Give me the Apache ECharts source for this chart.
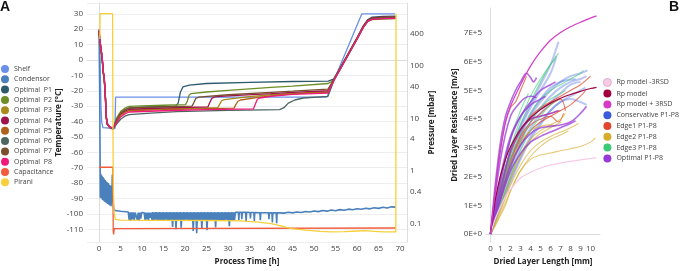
<!DOCTYPE html>
<html>
<head>
<meta charset="utf-8">
<script src="https://cdn.jsdelivr.net/npm/echarts@6/dist/echarts.min.js"></script>
<style>
html, body { margin: 0; padding: 0; background: #fff; }
#chart { width: 685px; height: 271px; }
</style>
</head>
<body>
<div id="chart"></div>
<script>
// ---- panel A : temperatures [°C] vs process time [h] ----
let shelf = [[0,20.3],[0.2,5],[0.45,-30],[0.6,-40],[0.9,-44],[3.7,-44.5],[3.85,-24.1],[53,-24.1],[61.1,30],[68.8,30]];

let condensor = [
  [0,19.5],[0.15,-20],[0.3,-89.5],[0.42,-74],[0.55,-90],[0.67,-75],[0.8,-91],[0.92,-76],[1.05,-91.5],[1.17,-77],
  [1.3,-92],[1.42,-78],[1.55,-92.5],[1.67,-79],[1.8,-93],[1.92,-79.5],[2.05,-93.5],[2.17,-80],[2.3,-94],[2.42,-81],
  [2.55,-94.5],[2.67,-81.5],[2.8,-95],[2.92,-82],[3.0,-90],[3.08,-74.5],[3.2,-91],[3.4,-96],[3.7,-97.8],[5,-98.3],[6.8,-98.8],
  [7.0,-104],[7.2,-99],[7.4,-104.5],[7.6,-99],[7.8,-103.5],[8.0,-99],[8.2,-104],[8.4,-99.1],
  [8.7,-99.1],[8.9,-104],[9.1,-99.1],[9.3,-104.5],[9.5,-99.1],[9.7,-103],[9.9,-99.1],
  [10.5,-99.2],[10.7,-104],[10.9,-99.2],[11.1,-103.5],[11.3,-99.2],[11.5,-104.5],[11.7,-99.2],[11.9,-102.5],[12.1,-99.2],
  [12.3,-104],[12.5,-98.8],[12.7,-104.5],[12.9,-98.9],[13.1,-103.8],[13.3,-98.8],[13.5,-104.2],[13.7,-98.9],[13.9,-104.6],[14.1,-98.8],
  [14.3,-103.9],[14.5,-98.9],[14.7,-104.3],[14.9,-98.8],[15.1,-104.5],[15.3,-98.9],[15.5,-103.7],[15.7,-98.8],[15.9,-104.4],[16.1,-98.9],
  [16.3,-104.1],[16.5,-98.8],[16.7,-104.6],[16.9,-98.9],[17.1,-108.5],[17.3,-98.8],[17.5,-104.2],[17.7,-98.9],[17.9,-110],[18.1,-98.8],
  [18.3,-104.5],[18.5,-98.9],[18.7,-104],[18.9,-98.8],[19.1,-109],[19.3,-98.9],[19.5,-104.3],[19.7,-98.8],[19.9,-104.6],[20.1,-98.9],
  [20.3,-103.8],[20.5,-98.8],[20.7,-104.4],[20.9,-98.9],[21.1,-104.1],[21.3,-98.8],[21.5,-104.5],[21.7,-98.9],[21.9,-111],[22.1,-98.8],
  [22.3,-104.2],[22.5,-98.9],[22.7,-112.5],[22.9,-98.8],[23.1,-104.4],[23.3,-98.9],[23.5,-104],[23.7,-98.8],[23.9,-109.5],[24.1,-98.9],
  [24.3,-104.6],[24.5,-98.8],[24.7,-104.1],[24.9,-98.9],[25.1,-110.5],[25.3,-98.8],[25.5,-104.3],[25.7,-98.9],[25.9,-104.5],[26.1,-98.8],
  [26.3,-103.9],[26.5,-98.9],[26.7,-104.2],[26.9,-98.8],[27.1,-108.8],[27.3,-98.9],[27.5,-104.4],[27.7,-98.8],[27.9,-104],[28.1,-98.9],
  [28.3,-104.6],[28.5,-98.8],[28.7,-104.1],[28.9,-98.9],[29.1,-104.3],[29.3,-98.8],[29.5,-103.8],[29.7,-98.9],[29.9,-104.5],[30.1,-98.8],
  [30.3,-108],[30.5,-98.9],[30.7,-104.2],[30.9,-98.8],[31.1,-104.4],[31.3,-98.9],[31.5,-103.9],[31.7,-99],
  [32.4,-99],[32.5,-104],[32.6,-99],[33.1,-99],[33.2,-103.5],[33.3,-99],[34.1,-99],[34.2,-105],[34.3,-99],
  [35.1,-99.1],[35.2,-103],[35.3,-99.1],[36.0,-99.1],[36.1,-104.5],[36.2,-99.1],[37.4,-99.2],[37.5,-104],[37.6,-99.2],
  [39.4,-99.2],[39.5,-103.5],[39.6,-99.2],[40.2,-99.3],[40.3,-105.5],[40.4,-99.3],[41.2,-99.3],[41.3,-106],[41.4,-99.3],
  [42,-99.3],[43,-99.5],[44,-98.9],[45,-99.3],[46,-98.7],[47,-99.1],[48,-98.4],[49,-98.8],[50,-98.1],[51,-98.5],
  [52,-97.8],[53,-98.2],[54,-97.5],[55,-97.9],[56,-97.2],[57,-97.6],[58,-96.9],[59,-97.3],[60,-96.6],[61,-97.0],
  [62,-96.3],[63,-96.7],[64,-96.0],[65,-96.4],[66,-95.7],[67,-96.1],[68,-95.4],[69,-95.6]
];

let p1 = [[0,18.5],[0.4,8],[0.7,2],[1.0,-8],[1.2,-11],[1.5,-25],[1.65,-36],[1.9,-41],[2.5,-43.3],[3.2,-44.2],[3.6,-42.5],[4,-39.5],[5,-34.5],[6,-32.5],[7,-31.2],[10,-30.6],[14,-30.3],[17.8,-30],[18.4,-28],[18.9,-21],[19.5,-17.5],[21,-16.3],[25,-15.3],[35,-14.5],[45,-14],[53.3,-13.8],[54.5,-12.5],[56,-5.5],[58,4.5],[60,14.5],[61.5,22.5],[62.5,26.3],[63.5,27.8],[66,28.3],[69,28.5]];
let p2 = [[0,18],[0.4,7],[0.7,1],[1.0,-9],[1.2,-12],[1.5,-26],[1.65,-36.5],[1.9,-41.5],[2.5,-43.5],[3.2,-44.5],[3.6,-42],[4,-38],[5,-33.5],[6,-31.3],[7,-30.2],[10,-29.8],[15,-29.4],[20.1,-29],[20.5,-27],[20.9,-23],[21.4,-21.8],[25,-20.8],[30,-19.8],[35,-18.8],[40,-17.8],[45,-17],[53.3,-15.3],[54.5,-13.2],[56,-6.2],[58,3.8],[60,13.5],[61.5,21.5],[62.5,25.2],[63.5,26.2],[66,26.6],[69,26.8]];
let p3 = [[0,18],[0.4,7.5],[0.7,1.5],[1.0,-9],[1.2,-12],[1.5,-26],[1.65,-37],[1.9,-42],[2.5,-43.8],[3.2,-44.6],[3.6,-42.5],[4,-39.8],[5,-35.5],[6,-33.5],[7,-32.5],[15,-31.8],[27.6,-31],[28,-29],[28.5,-26.5],[29.1,-25.8],[35,-23.8],[40,-22.6],[45,-21.7],[53.2,-20.5],[54.5,-13.5],[56,-6],[58,4],[60,14],[61.5,21.8],[62.5,25.5],[63.5,26.8],[66,27.2],[69,27.4]];
let p4 = [[0,19],[0.4,8],[0.7,2.5],[1.0,-8],[1.2,-11.5],[1.5,-25],[1.65,-36.5],[1.9,-41.8],[2.5,-43.8],[3.2,-44.8],[3.6,-42.8],[4,-40],[5,-35.5],[6,-33.3],[7,-32],[15,-31.2],[25.3,-30.5],[25.7,-28],[26.2,-25],[26.8,-24],[30,-23.3],[40,-21.8],[45,-21],[53.2,-20],[54.5,-13.3],[56,-5.8],[58,4.2],[60,14.3],[61.5,22.2],[62.5,25.8],[63.5,27.3],[66,27.8],[69,28]];
let p5 = [[0,18.3],[0.4,7.3],[0.7,1.8],[1.0,-8.5],[1.2,-11.8],[1.5,-25.5],[1.65,-36.8],[1.9,-41.9],[2.5,-43.9],[3.2,-44.7],[3.6,-43],[4,-40.5],[5,-36],[6,-34],[7,-33],[15,-32.3],[31.4,-31.3],[31.8,-29],[32.3,-26.8],[32.9,-26],[37,-24.3],[42,-22.7],[47,-21.7],[53.2,-21],[54.5,-13.6],[56,-6.1],[58,3.9],[60,13.9],[61.5,21.7],[62.5,25.3],[63.5,26.6],[66,27],[69,27.2]];
let p6 = [[0,18.8],[0.4,7.8],[0.7,2.2],[1.0,-8.2],[1.2,-11.2],[1.5,-25.2],[1.65,-36.2],[1.9,-41.5],[2.5,-43.8],[3.2,-45],[3.6,-43.8],[4,-42],[5,-38.5],[6,-36.5],[7,-35.5],[12,-34.5],[18,-33.6],[30,-32.8],[42,-32.2],[43,-31],[44,-28],[45.5,-26],[47.5,-24.7],[53.2,-23.7],[54.5,-14],[56,-6.5],[58,3.5],[60,13.6],[61.5,21.4],[62.5,25],[63.5,26.5],[66,27.4],[69,27.9]];
let p7 = [[0,18.2],[0.4,7.2],[0.7,1.2],[1.0,-8.8],[1.2,-12.2],[1.5,-26],[1.65,-36.6],[1.9,-41.6],[2.5,-43.6],[3.2,-44.4],[3.6,-42.3],[4,-39],[5,-34.5],[6,-32.3],[7,-31.2],[12,-30.7],[21.6,-30],[22,-28],[22.5,-25],[23.1,-24.2],[30,-22.6],[40,-21],[45,-20.3],[53.2,-19],[54.5,-13],[56,-5.7],[58,4.3],[60,14.2],[61.5,22],[62.5,25.7],[63.5,27],[66,27.6],[69,27.9]];
let p8 = [[0,19.5],[0.4,8.5],[0.7,3],[1.0,-7.5],[1.2,-11],[1.5,-24.5],[1.65,-36],[1.9,-41.2],[2.5,-43.5],[3.2,-44.5],[3.6,-43.5],[4,-41],[5,-37],[6,-35],[7,-33.8],[15,-33],[25,-32.3],[35.9,-31.8],[36.3,-29],[36.8,-25.5],[37.4,-24.7],[40,-23.6],[45,-22.4],[53.2,-21.6],[54.5,-13.8],[56,-6.3],[58,3.7],[60,13.7],[61.5,21.5],[62.5,25.2],[63.5,26.4],[66,26.9],[69,27.1]];

// pressures [mbar]
let capacitance = [[0,1.17],[3.2,1.17],[3.3,0.07],[3.4,0.062],[3.55,0.08],[4,0.082],[69,0.082]];
let pirani = [[0.2,320],[0.25,970],[3.15,970],[3.25,3],[3.35,0.4],[3.5,0.16],[3.8,0.12],[5,0.116],[15,0.115],[25,0.114],[33,0.112],[37,0.106],[40,0.099],[42,0.091],[44.8,0.08],[48,0.075],[51.4,0.071],[54,0.069],[57,0.07],[60,0.072],[62,0.073],[64,0.071],[66,0.069],[69,0.069],[69.05,970]];

let namesA = ['Shelf','Condensor','Optimal  P1','Optimal  P2','Optimal  P3','Optimal  P4','Optimal  P5','Optimal  P6','Optimal  P7','Optimal  P8','Capacitance','Pirani'];
let colorsA = ['#6a8fe8','#4a80bb','#2d5b6b','#6d8d27','#a8891c','#a0124d','#b0621a','#4c6662','#7a4f2e','#f0197c','#f25c3d','#f8cf3a'];
let tempSeries = [shelf, condensor, p1, p2, p3, p4, p5, p6, p7, p8];
let pressSeries = [capacitance, pirani];

// ---- panel B : dried layer resistance [1E+5 m/s] vs dried layer length [mm] ----
let rpLength = [0,0.5,1,1.5,2,3,4,5,6,7,8,9,10,10.6];
let rpLow  = [0,0.55,0.95,1.3,1.55,1.95,2.15,2.3,2.4,2.47,2.53,2.58,2.63,2.66];
let rpMid  = [0,1.22,2.03,2.61,3.04,3.65,4.05,4.34,4.56,4.73,4.86,4.97,5.07,5.11];
let rpHigh = [0,1.6,2.9,3.9,4.45,5.2,5.85,6.35,6.75,7.02,7.22,7.38,7.52,7.6];

let conservative = [
  [[0,0],[1,1.6],[2,2.9],[3,3.8],[4,4.5],[5,5.2],[6,5.9],[6.8,6.7]],
  [[0,0],[1,1.5],[2,2.8],[3,3.7],[4,4.4],[5,5.0],[6,5.6],[6.6,6.2]],
  [[0,0],[1,1.3],[2,2.5],[3,3.4],[4,4.1],[5,4.6],[6,5.0],[7,5.3],[8,5.5],[9,5.6],[9.7,5.7]],
  [[0,0],[1,1.2],[2,2.3],[3,3.2],[4,3.9],[5,4.4],[6,4.8],[7,5.1],[8,5.3],[9,5.4],[9.6,5.5]],
  [[0,0],[1,1.1],[2,2.1],[3,3.0],[4,3.7],[5,4.2],[6,4.6],[7,4.9],[8,5.2],[9,5.3]],
  [[0,0],[1,1.0],[2,1.9],[3,2.7],[4,3.4],[5,3.9],[6,4.3],[7,4.6],[8,4.8],[9,5.0],[9.5,5.1]],
  [[0,0],[1,1.4],[2,2.6],[3,3.5],[4,4.2],[5,4.7],[6,5.1],[7,5.3],[8.5,5.4]],
  [[0,0],[1,0.9],[2,1.8],[3,2.6],[4,3.3],[5,3.8],[6,4.3],[7,4.6],[8,4.7],[9,4.6],[9.6,4.5]]
];
let edge1 = [
  [[0,0],[0.5,1.6],[1,3.0],[1.5,3.9],[2,4.4],[2.5,4.6],[3,5.0],[3.6,5.5]],
  [[0,0],[1,1.6],[2,2.9],[3,3.6],[4,4.0],[5,4.1],[6,4.2],[7,4.3]],
  [[0,0],[1,1.3],[2,2.5],[3,3.3],[4,3.8],[5,4.0],[6,4.1],[6.8,3.9],[7.3,4.2]],
  [[0,0],[1,1.5],[2,2.8],[3,3.6],[4,4.1],[5,4.4],[6,4.6],[7,4.8],[8,5.0],[9,5.2],[10,5.5]],
  [[0,0],[1,1.2],[2,2.3],[3,3.1],[4,3.6],[5,3.9],[6,4.1],[7,4.3],[8,4.5],[9,4.8],[9.5,5.0]],
  [[0,0],[1,1.4],[2,2.6],[3,3.4],[4,3.9],[5,4.2],[6,4.5],[7,4.7],[7.5,4.3]]
];
let edge2 = [
  [[0,0],[0.5,0.3],[1,0.65],[1.5,1.0],[2,1.5],[3,2.2],[4,2.6],[5,2.75],[6,2.82],[7,2.9],[8,2.97],[9,3.05],[10,3.2],[10.5,3.35]],
  [[0,0],[1,0.8],[2,1.7],[3,2.4],[4,2.9],[5,3.2],[6,3.4],[7,3.55],[8,3.7],[8.8,3.85]],
  [[0,0],[1,1.0],[2,2.0],[3,2.8],[4,3.3],[5,3.6],[6,3.8],[7,4.0],[7.5,4.2]],
  [[0,0],[1,0.7],[2,1.5],[3,2.2],[4,2.7],[5,3.05],[6,3.3],[7,3.45],[7.8,3.6]],
  [[0,0],[1,1.3],[2,2.5],[3,3.2],[4,3.6],[5,3.75],[6,3.8],[6.5,3.75]],
  [[0,0],[1,0.9],[2,1.9],[3,2.7],[4,3.2],[5,3.5],[6,3.7],[7.1,3.9]]
];
let edge3 = [
  [[0,0],[1,1.5],[2,2.8],[3,3.8],[4,4.6],[5,5.3],[6,5.9],[6.8,6.3]],
  [[0,0],[1,1.6],[2,3.0],[3,4.0],[4,4.8],[5,5.4],[6,5.9],[6.5,6.1]],
  [[0,0],[1,1.4],[2,2.6],[3,3.5],[4,4.2],[5,4.7],[6,5.0],[7,5.2],[8,5.4],[9,5.6],[9.3,5.7]],
  [[0,0],[1,1.2],[2,2.3],[3,3.2],[4,3.9],[5,4.4],[6,4.7],[7,4.9],[7.5,5.0]],
  [[0,0],[1,1.8],[2,3.3],[3,4.3],[3.8,4.9]],
  [[0,0],[1,1.0],[2,2.0],[3,2.9],[4,3.6],[5,4.1],[6,4.5],[6.8,4.7]]
];
let optimal = [
  [[0,0],[0.5,1.8],[1,3.2],[1.5,4.1],[2,4.6],[2.5,5.0],[3,5.3],[3.6,5.6],[4,5.45],[4.3,5.3],[4.6,5.45]],
  [[0,0],[1,2.6],[2,4.1],[3,4.6],[3.5,4.75],[4,4.8],[4.6,4.75]],
  [[0,0],[1,1.3],[2,2.4],[3,3.1],[4,3.5],[5,3.7],[6,3.75],[7,3.8],[8,3.9],[9,4.2],[9.6,4.45]],
  [[0,0],[1,1.5],[2,2.9],[3,3.6],[4,4.0],[5,4.1],[6,4.2],[6.8,4.3]],
  [[0,0],[1,1.2],[2,2.2],[3,2.8],[4,3.2],[5,3.4],[6,3.55],[7,3.7],[8,3.85],[8.5,3.95]],
  [[0,0],[1,2.0],[2,3.4],[3,4.1],[4,4.5],[5,4.7],[5.5,4.8]],
  [[0,0],[1,1.8],[2,3.3],[3,4.1],[4,4.6],[5,5.0],[6,5.2],[6.5,5.3]]
];

let namesB = ['Rp model -3RSD','Rp model','Rp model + 3RSD','Conservative P1-P8','Edge1 P1-P8','Edge2 P1-P8','Edge3 P1-P8','Optimal P1-P8'];
let colorsB = ['#f7cbe6','#a0003f','#d53cc5','#3a5bdc','#e0482e','#d6ac2c','#3ccb78','#9838d8'];

// ---- build ----
let font = 'Open Sans';
let tickStyle = { fontSize: 8, color: '#444', fontFamily: font };
let titleStyle = { fontSize: 8, fontWeight: 'bold', color: '#222', fontFamily: font };
let axisLn = { show: true, lineStyle: { color: '#ddd', width: 1 } };

let series = [];
tempSeries.forEach(function (d, i) {
    series.push({
        name: namesA[i], type: 'line', xAxisIndex: 0, yAxisIndex: 0, data: d,
        symbol: 'none', color: colorsA[i],
        lineStyle: { width: i === 1 ? 1.6 : 1.3 }
    });
});
pressSeries.forEach(function (d, i) {
    series.push({
        name: namesA[10 + i], type: 'line', xAxisIndex: 0, yAxisIndex: 1, data: d,
        symbol: 'none', color: colorsA[10 + i], lineStyle: { width: 1.3 }
    });
});

let groups = [conservative, edge1, edge2, edge3, optimal];
let groupStyle = [
    { width: 2, opacity: 0.35 },
    { width: 1.1, opacity: 0.75 },
    { width: 1.1, opacity: 0.65 },
    { width: 1.1, opacity: 0.6 },
    { width: 1.6, opacity: 0.75 }
];
groups.forEach(function (g, gi) {
    g.forEach(function (curve) {
        series.push({
            name: namesB[3 + gi], type: 'line', xAxisIndex: 1, yAxisIndex: 3, data: curve,
            symbol: 'none', smooth: 0.35, color: colorsB[3 + gi], lineStyle: groupStyle[gi]
        });
    });
});
[rpLow, rpMid, rpHigh].forEach(function (vals, i) {
    series.push({
        name: namesB[i], type: 'line', xAxisIndex: 1, yAxisIndex: 3,
        data: rpLength.map(function (l, k) { return [l, vals[k]]; }),
        symbol: 'none', smooth: 0.3, color: colorsB[i], lineStyle: { width: 1.2 }
    });
});

let option = {
    animation: false,
    backgroundColor: '#fff',
    title: [
        { text: 'A', left: 0, top: 0, padding: 0, textStyle: { fontSize: 14, fontWeight: 'bold', color: '#111', fontFamily: 'Liberation Sans' } },
        { text: 'B', left: 669, top: 0, padding: 0, textStyle: { fontSize: 14, fontWeight: 'bold', color: '#111', fontFamily: 'Liberation Sans' } }
    ],
    legend: [
        {
            data: namesA, orient: 'vertical', left: 1, top: 65, icon: 'circle',
            itemWidth: 8, itemHeight: 8, itemGap: 2.3, padding: 0,
            textStyle: { fontSize: 7, color: '#444', fontFamily: font, lineHeight: 8 }
        },
        {
            data: namesB.map(function (n, i) {
                return i === 0 ? { name: n, itemStyle: { borderColor: '#d9a0c8', borderWidth: 0.8 } } : n;
            }),
            orient: 'vertical', left: 603, top: 78, icon: 'circle',
            itemWidth: 8, itemHeight: 8, itemGap: 2.8, padding: 0,
            textStyle: { fontSize: 7, color: '#444', fontFamily: font, lineHeight: 8 }
        }
    ],
    grid: [
        { left: 87, top: 3, width: 320, height: 244 },
        { left: 486, top: 8, width: 114, height: 239 }
    ],
    xAxis: [
        {
            type: 'value', gridIndex: 0, min: -2.8, max: 71.6, minInterval: 5, maxInterval: 5, splitNumber: 15,
            name: 'Process Time [h]', nameLocation: 'middle', nameGap: 15, nameTextStyle: titleStyle,
            axisLine: axisLn, axisTick: { show: false }, splitLine: { show: false },
            axisLabel: Object.assign({ margin: 3, showMinLabel: false, showMaxLabel: false }, tickStyle)
        },
        {
            type: 'value', gridIndex: 1, min: -0.45, max: 10.95, minInterval: 1, maxInterval: 1, splitNumber: 11,
            name: 'Dried Layer Length [mm]', nameLocation: 'middle', nameGap: 15, nameTextStyle: titleStyle,
            axisLine: axisLn, axisTick: { show: false }, splitLine: { show: false },
            axisLabel: Object.assign({ margin: 3, showMinLabel: false, showMaxLabel: false }, tickStyle)
        }
    ],
    yAxis: [
        {
            type: 'value', gridIndex: 0, position: 'left', min: -118.3, max: 37, minInterval: 10, maxInterval: 10, splitNumber: 15,
            name: 'Temperature [°C]', nameLocation: 'middle', nameGap: 10, nameRotate: 90,
            nameTextStyle: titleStyle,
            axisLine: axisLn, axisTick: { show: false },
            splitLine: { show: true, lineStyle: { color: '#eeeeee', width: 1 } },
            axisLabel: Object.assign({ margin: 4, showMinLabel: false, showMaxLabel: false }, tickStyle)
        },
        {
            type: 'log', logBase: 10, gridIndex: 0, position: 'right', offset: 0, min: 0.04426, max: 1549,
            name: 'Pressure [mbar]', nameLocation: 'middle', nameGap: 12, nameRotate: 90,
            nameTextStyle: titleStyle,
            axisLine: axisLn, axisTick: { show: false }, splitLine: { show: false },
            axisLabel: Object.assign({
                margin: 3, showMinLabel: false, showMaxLabel: false,
                formatter: function (v) { return v > 999 ? '' : String(+(+v).toPrecision(3)); }
            }, tickStyle)
        },
        {
            // same pixel range, shifted by a factor 2.5 so its decades sit on 0.4 / 4 / 40 / 400 mbar
            type: 'log', logBase: 10, gridIndex: 0, position: 'right', offset: 0, min: 0.04426 * 2.5, max: 1549 * 2.5,
            axisLine: { show: false }, axisTick: { show: false }, splitLine: { show: false },
            axisLabel: Object.assign({
                margin: 3, showMinLabel: false, showMaxLabel: false,
                formatter: function (v) { return String(+(v * 0.4).toPrecision(3)); }
            }, tickStyle)
        },
        {
            type: 'value', gridIndex: 1, min: -0.283, max: 7.874, minInterval: 1, maxInterval: 1, splitNumber: 8,
            name: 'Dried Layer Resistance [m/s]', nameLocation: 'middle', nameGap: 27, nameRotate: 90,
            nameTextStyle: titleStyle,
            axisLine: axisLn, axisTick: { show: false }, splitLine: { show: false },
            axisLabel: Object.assign({
                margin: 4, showMinLabel: false, showMaxLabel: false,
                formatter: function (v) { return v === 0 ? '0E+0' : v + 'E+5'; }
            }, tickStyle)
        }
    ],
    series: series
};

let chart = echarts.init(document.getElementById('chart'));
chart.setOption(option);
</script>
</body>
</html>
